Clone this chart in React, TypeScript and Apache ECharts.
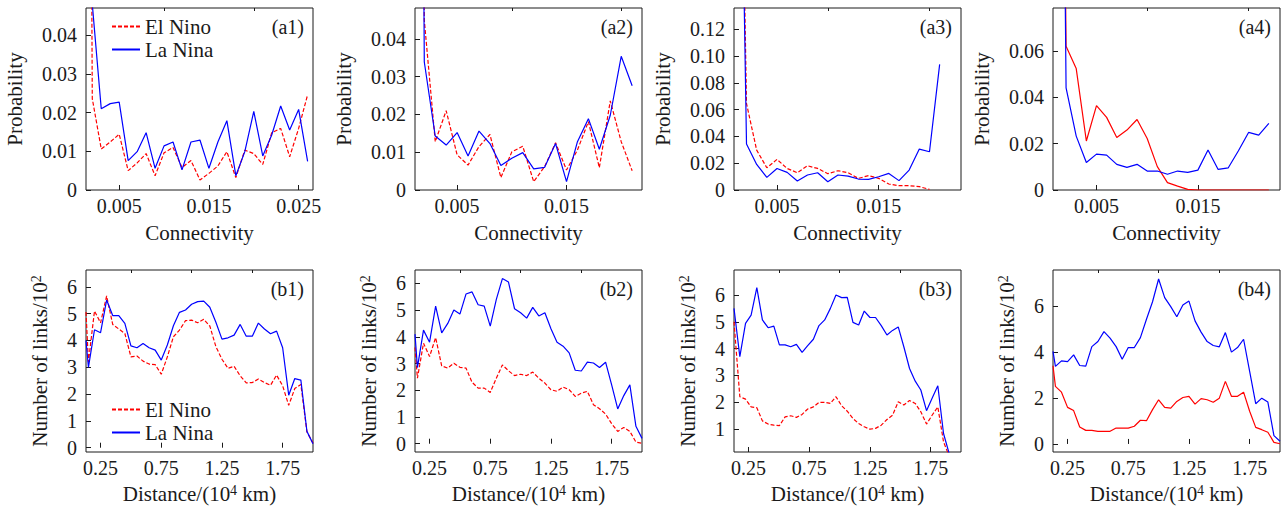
import React, { useEffect, useRef } from "react";
import * as echarts from "echarts";

// Connectivity bins (top row), shared by the four probability panels
const CONN = [
  0.001, 0.002, 0.003, 0.004, 0.005, 0.006, 0.007, 0.008, 0.009, 0.01, 0.011, 0.012, 0.013,
  0.014, 0.015, 0.016, 0.017, 0.018, 0.019, 0.02, 0.021, 0.022, 0.023, 0.024, 0.025, 0.026,
];

const A1_EL = [0.5, 0.0236, 0.0106, 0.0124, 0.0144, 0.005, 0.007, 0.0094, 0.0037, 0.0096, 0.011, 0.0058, 0.0076, 0.0026, 0.0043, 0.0062, 0.0099, 0.0032, 0.0103, 0.0094, 0.0066, 0.0148, 0.0159, 0.0086, 0.0159, 0.0246];
const A1_LA = [0.5, 0.048, 0.021, 0.0223, 0.0227, 0.0076, 0.0099, 0.0148, 0.0056, 0.0114, 0.0124, 0.0052, 0.0124, 0.0129, 0.0056, 0.0124, 0.0179, 0.0037, 0.0099, 0.0203, 0.0088, 0.0142, 0.0217, 0.0155, 0.0208, 0.0074];

const A2_EL = [0.5, 0.045, 0.0128, 0.021, 0.0093, 0.0066, 0.0115, 0.0147, 0.0033, 0.0101, 0.0116, 0.0022, 0.0062, 0.0125, 0.0053, 0.0106, 0.0181, 0.0059, 0.0236, 0.0128, 0.0051];
const A2_LA = [0.5, 0.0339, 0.0143, 0.0119, 0.0152, 0.009, 0.0156, 0.0123, 0.0065, 0.0084, 0.0099, 0.0056, 0.006, 0.0123, 0.0022, 0.0128, 0.0189, 0.0108, 0.0198, 0.0354, 0.0276];

const A3_EL = [0.5, 0.0646, 0.0298, 0.0166, 0.0229, 0.0161, 0.0129, 0.0181, 0.0161, 0.0122, 0.0144, 0.0129, 0.0087, 0.0107, 0.0087, 0.0045, 0.0032, 0.0032, 0.0025, 0.0005];
const A3_LA = [0.5, 0.0343, 0.0191, 0.0094, 0.0161, 0.0132, 0.0067, 0.0112, 0.0129, 0.0062, 0.0112, 0.0104, 0.0082, 0.008, 0.0099, 0.0124, 0.007, 0.0149, 0.0306, 0.0286, 0.0939];

const A4_EL = [0.5, 0.0622, 0.0525, 0.0212, 0.0365, 0.0314, 0.0227, 0.0259, 0.0305, 0.0223, 0.0101, 0.0032, 0.0017, 0.0003, 0, 0, 0, 0, 0, 0, 0, 0];
const A4_LA = [0.5, 0.0442, 0.0233, 0.0119, 0.0155, 0.0151, 0.0111, 0.0098, 0.0111, 0.0082, 0.0082, 0.0068, 0.0082, 0.0076, 0.0086, 0.0173, 0.0089, 0.0096, 0.017, 0.0249, 0.0237, 0.0288];

// Distance bins (bottom row), in 10^4 km
const DIST = [
  0.13, 0.15, 0.2, 0.25, 0.3, 0.35, 0.4, 0.45, 0.5, 0.55, 0.6, 0.65, 0.7, 0.75, 0.8, 0.85, 0.9,
  0.95, 1.0, 1.05, 1.1, 1.15, 1.2, 1.25, 1.3, 1.35, 1.4, 1.45, 1.5, 1.55, 1.6, 1.65, 1.7, 1.75,
  1.8, 1.85, 1.9, 1.95, 2.0,
];
const DIST_B3 = [
  0.13, 0.178, 0.225, 0.271, 0.318, 0.364, 0.411, 0.458, 0.504, 0.551, 0.597, 0.644, 0.691,
  0.737, 0.784, 0.83, 0.877, 0.924, 0.97, 1.017, 1.063, 1.11, 1.157, 1.203, 1.25, 1.296, 1.343,
  1.39, 1.436, 1.483, 1.529, 1.576, 1.623, 1.669, 1.716, 1.762, 1.809, 1.856, 1.902,
];

const B1_EL = [5.06, 3.2, 5.1, 4.66, 5.66, 4.6, 4.43, 4.26, 3.39, 3.42, 3.23, 3.12, 3.1, 2.74, 3.39, 4.14, 4.39, 4.74, 4.76, 4.66, 4.79, 4.54, 3.77, 3.3, 2.96, 3.04, 2.68, 2.42, 2.43, 2.56, 2.43, 2.33, 2.71, 2.31, 1.58, 2.21, 2.36, 0.59, 0.17];
const B1_LA = [4.0, 3.0, 4.4, 4.29, 5.51, 4.93, 4.93, 4.64, 3.8, 3.73, 3.89, 3.73, 3.64, 3.27, 3.83, 4.55, 5.05, 5.14, 5.35, 5.45, 5.47, 5.24, 4.68, 4.05, 4.1, 4.2, 4.6, 4.16, 4.16, 4.65, 4.43, 4.25, 4.35, 3.73, 1.96, 2.58, 2.52, 0.61, 0.15];

const B2_EL = [3.6, 2.45, 3.76, 3.26, 3.97, 2.91, 2.83, 3.01, 2.86, 2.83, 2.3, 2.08, 2.08, 1.92, 2.45, 2.95, 2.73, 2.55, 2.6, 2.55, 2.68, 2.45, 2.27, 2.02, 1.96, 2.12, 2.02, 1.77, 1.89, 1.96, 1.46, 1.31, 1.11, 0.75, 0.46, 0.61, 0.46, 0.06, 0.02];
const B2_LA = [4.1, 2.85, 4.25, 3.8, 5.15, 4.15, 4.5, 5.0, 4.85, 5.6, 5.68, 5.2, 5.15, 4.4, 5.4, 6.18, 6.05, 5.05, 4.9, 4.7, 5.1, 4.78, 4.9, 4.3, 3.8, 3.65, 3.4, 2.75, 2.72, 3.05, 3.02, 2.85, 3.05, 2.2, 1.3, 1.8, 2.2, 0.65, 0.2];

const B3_EL = [5.0, 2.21, 2.12, 1.83, 1.8, 1.31, 1.19, 1.15, 1.13, 1.46, 1.5, 1.44, 1.55, 1.75, 1.83, 2.0, 2.0, 1.96, 2.21, 1.87, 1.67, 1.4, 1.21, 1.09, 1.0, 1.03, 1.15, 1.36, 1.52, 2.02, 1.9, 2.07, 1.96, 1.65, 1.19, 1.52, 1.83, 0.53, 0.0];
const B3_LA = [5.5, 3.7, 4.94, 5.25, 6.27, 5.07, 4.78, 4.84, 4.14, 4.14, 4.07, 4.16, 3.86, 4.11, 4.35, 4.86, 5.07, 5.5, 6.0, 5.9, 5.91, 4.98, 4.88, 5.4, 5.16, 5.16, 4.86, 4.51, 4.68, 4.81, 4.07, 3.26, 2.79, 2.46, 1.69, 2.15, 2.62, 0.84, 0.1];

const B4_EL = [3.4, 2.5, 2.25, 1.59, 1.45, 0.74, 0.59, 0.59, 0.55, 0.55, 0.55, 0.69, 0.69, 0.69, 0.77, 1.03, 1.01, 1.49, 1.92, 1.59, 1.56, 1.85, 2.02, 2.07, 1.73, 1.97, 1.92, 1.81, 1.99, 2.72, 2.07, 2.07, 2.25, 1.42, 0.72, 0.62, 0.51, 0.07, 0.01];
const B4_LA = [4.02, 3.37, 3.61, 3.58, 3.87, 3.41, 3.38, 4.23, 4.45, 4.88, 4.6, 4.23, 3.68, 4.19, 4.19, 4.62, 5.42, 6.18, 7.17, 6.36, 5.97, 5.53, 6.04, 6.21, 5.35, 4.86, 4.45, 4.28, 4.22, 4.84, 3.99, 4.19, 4.55, 3.15, 1.75, 1.99, 1.82, 0.36, 0.12];

// Tick positions
const A_X_MAJOR = [0.005, 0.015, 0.025];
const A_X_MINOR = [0.01, 0.02];
const B_X_MAJOR = [0.25, 0.75, 1.25, 1.75];
const B_X_MINOR = [0.5, 1.0, 1.5];
const A1_Y = [0, 0.01, 0.02, 0.03, 0.04];
const A3_Y = [0, 0.02, 0.04, 0.06, 0.08, 0.1, 0.12];
const A4_Y = [0, 0.02, 0.04, 0.06];
const B_Y = [0, 1, 2, 3, 4, 5, 6];
const B3_Y = [1, 2, 3, 4, 5, 6];
const B4_Y = [0, 2, 4, 6];

const SERIES_NAMES = ["El Nino", "La Nina"];
const PANEL_TAGS = ["(a1)", "(a2)", "(a3)", "(a4)", "(b1)", "(b2)", "(b3)", "(b4)"];

const RED = "#ff0000";
const BLUE = "#0000ff";
const INK = "#1a1a1a";
const FONT = "'Liberation Serif', 'Times New Roman', serif";
const FS = 20;
const FS_NAME = 21;

type Panel = {
  xs: number[];
  el: number[];
  la: number[];
  elDashed: boolean;
  xRange: [number, number];
  yRange: [number, number];
  xMajor: number[];
  xMinor: number[];
  yTicks: number[];
  top: boolean;
};

const panels: Panel[] = [
  { xs: CONN, el: A1_EL, la: A1_LA, elDashed: true, xRange: [0.0013, 0.0266], yRange: [0, 0.047], xMajor: A_X_MAJOR, xMinor: A_X_MINOR, yTicks: A1_Y, top: true },
  { xs: CONN, el: A2_EL, la: A2_LA, elDashed: true, xRange: [0.00115, 0.0219], yRange: [0, 0.0482], xMajor: A_X_MAJOR.slice(0, 2), xMinor: A_X_MINOR, yTicks: A1_Y, top: true },
  { xs: CONN, el: A3_EL, la: A3_LA, elDashed: true, xRange: [0.00077, 0.0231], yRange: [0, 0.136], xMajor: A_X_MAJOR.slice(0, 2), xMinor: A_X_MINOR, yTicks: A3_Y, top: true },
  { xs: CONN, el: A4_EL, la: A4_LA, elDashed: false, xRange: [0.00071, 0.0231], yRange: [0, 0.0787], xMajor: A_X_MAJOR.slice(0, 2), xMinor: A_X_MINOR, yTicks: A4_Y, top: true },
  { xs: DIST, el: B1_EL, la: B1_LA, elDashed: true, xRange: [0.13, 2.0], yRange: [-0.16, 6.63], xMajor: B_X_MAJOR, xMinor: B_X_MINOR, yTicks: B_Y, top: false },
  { xs: DIST, el: B2_EL, la: B2_LA, elDashed: true, xRange: [0.13, 2.0], yRange: [-0.31, 6.5], xMajor: B_X_MAJOR, xMinor: B_X_MINOR, yTicks: B_Y, top: false },
  { xs: DIST_B3, el: B3_EL, la: B3_LA, elDashed: true, xRange: [0.13, 2.0], yRange: [0.15, 6.93], xMajor: B_X_MAJOR, xMinor: B_X_MINOR, yTicks: B3_Y, top: false },
  { xs: DIST, el: B4_EL, la: B4_LA, elDashed: false, xRange: [0.13, 2.0], yRange: [-0.35, 7.56], xMajor: B_X_MAJOR, xMinor: B_X_MINOR, yTicks: B4_Y, top: false },
];

const GRID_LEFT = [86, 415, 734, 1053];
const GRID_W = 227;
const GRID_H = 182;
const ROW_TOP = [8, 270];

const supRich = {
  sup: { fontSize: 14, fontFamily: FONT, color: INK, verticalAlign: "top" as const, lineHeight: 12 },
};

function buildOption() {
  const grid: any[] = [];
  const xAxis: any[] = [];
  const yAxis: any[] = [];
  const series: any[] = [];
  const graphic: any[] = [];

  panels.forEach((p, i) => {
    const col = i % 4;
    const row = p.top ? 0 : 1;
    const left = GRID_LEFT[col];
    const top = ROW_TOP[row];
    grid.push({
      left,
      top,
      width: GRID_W,
      height: GRID_H,
      show: true,
      borderColor: INK,
      borderWidth: 1,
      backgroundColor: "transparent",
      containLabel: false,
      outerBoundsMode: "none",
    });

    const xFmt = (v: number) => (p.top ? v.toFixed(3) : v.toFixed(2));
    const yFmt = (v: number) => (v === 0 ? "0" : p.top ? v.toFixed(2) : String(v));

    // main x axis: labels and long ticks
    xAxis.push({
      type: "value",
      gridIndex: i,
      min: p.xRange[0],
      max: p.xRange[1],
      name: p.top ? "Connectivity" : "Distance/(10{sup|4} km)",
      nameLocation: "middle",
      nameGap: p.top ? 32 : 31,
      nameTextStyle: { fontFamily: FONT, fontSize: FS_NAME, color: INK, lineHeight: 21, rich: supRich },
      axisLine: { show: false },
      splitLine: { show: false },
      axisTick: { show: true, inside: true, length: 5, customValues: p.xMajor, lineStyle: { color: INK, width: 1 } },
      axisLabel: { customValues: p.xMajor, formatter: xFmt, fontFamily: FONT, fontSize: FS, color: INK, margin: 6 },
    });
    // companion x axis: short ticks only
    xAxis.push({
      type: "value",
      gridIndex: i,
      min: p.xRange[0],
      max: p.xRange[1],
      axisLine: { show: false },
      splitLine: { show: false },
      axisTick: { show: true, inside: true, length: 3, customValues: p.xMinor, lineStyle: { color: INK, width: 1 } },
      axisLabel: { show: false, customValues: p.xMinor },
    });

    yAxis.push({
      type: "value",
      gridIndex: i,
      min: p.yRange[0],
      max: p.yRange[1],
      name: p.top ? "Probability" : "Number of links/10{sup|2}",
      nameLocation: "middle",
      nameGap: p.top ? 61 : 36,
      nameRotate: 90,
      nameTextStyle: { fontFamily: FONT, fontSize: FS_NAME, color: INK, lineHeight: 21, rich: supRich },
      axisLine: { show: false },
      splitLine: { show: false },
      axisTick: { show: true, inside: true, length: 5, customValues: p.yTicks, lineStyle: { color: INK, width: 1 } },
      axisLabel: { customValues: p.yTicks, formatter: yFmt, fontFamily: FONT, fontSize: FS, color: INK, margin: 9 },
    });

    const pairs = (ys: number[]) => ys.map((y, k) => [p.xs[k], y]);
    series.push({
      name: SERIES_NAMES[0],
      type: "line",
      xAxisIndex: 2 * i,
      yAxisIndex: i,
      data: pairs(p.el),
      symbol: "none",
      showSymbol: false,
      clip: true,
      lineStyle: { color: RED, width: 1.2, type: p.elDashed ? [4, 2] : "solid" },
      itemStyle: { color: RED },
      z: 2,
    });
    series.push({
      name: SERIES_NAMES[1],
      type: "line",
      xAxisIndex: 2 * i,
      yAxisIndex: i,
      data: pairs(p.la),
      symbol: "none",
      showSymbol: false,
      clip: true,
      lineStyle: { color: BLUE, width: 1.2, type: "solid" },
      itemStyle: { color: BLUE },
      z: 3,
    });

    graphic.push({
      type: "text",
      x: left + GRID_W - 9,
      y: top + 19,
      style: {
        text: PANEL_TAGS[i],
        font: `${FS}px ${FONT}`,
        fill: INK,
        textAlign: "right",
        textVerticalAlign: "middle",
      },
    });
  });

  const legendBase = {
    data: SERIES_NAMES,
    orient: "vertical",
    left: 111,
    padding: 0,
    itemWidth: 28,
    itemHeight: 12,
    itemGap: 2,
    selectedMode: false,
    itemStyle: { opacity: 0 },
    textStyle: { fontFamily: FONT, fontSize: FS_NAME, color: INK },
  };

  return {
    animation: false,
    backgroundColor: "#ffffff",
    textStyle: { fontFamily: FONT },
    grid,
    xAxis,
    yAxis,
    series,
    graphic,
    legend: [
      { ...legendBase, top: 16 },
      { ...legendBase, top: 399 },
    ],
  };
}

export default function App() {
  const ref = useRef<HTMLDivElement>(null);

  useEffect(() => {
    if (!ref.current) return;
    const chart = echarts.init(ref.current, undefined, { renderer: "svg" });
    chart.setOption(buildOption() as any);
    return () => chart.dispose();
  }, []);

  return (
    <div
      ref={ref}
      style={{ position: "absolute", left: 0, top: 0, width: 1285, height: 509, background: "#fff" }}
    />
  );
}
